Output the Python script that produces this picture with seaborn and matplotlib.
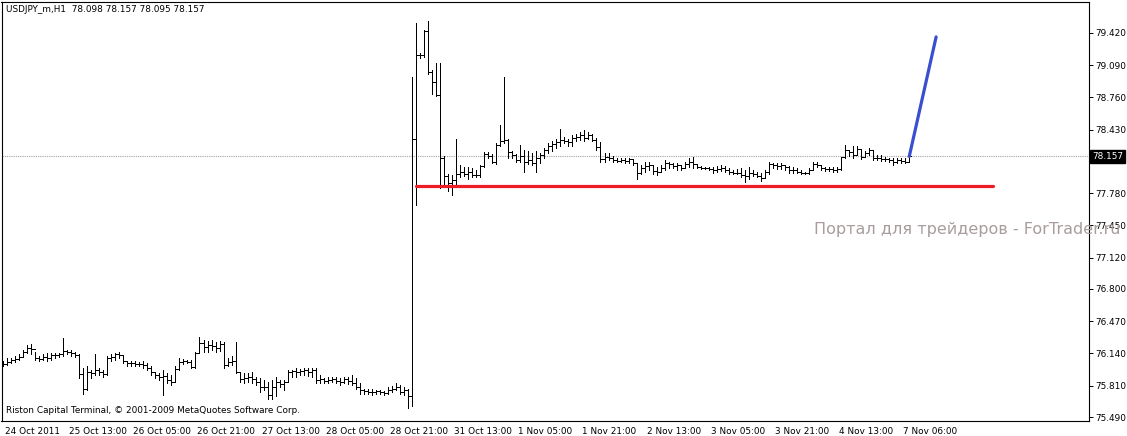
"""
USDJPY H1 - graphique en barres OHLC (style terminal MT4)
Sortie : out.png
"""

import numpy as np
import pandas as pd
import matplotlib
matplotlib.use("Agg")
import matplotlib.pyplot as plt
import matplotlib.transforms as mtransforms
import seaborn as sns

# ============================================================================
# DONNÉES
# ============================================================================
symbol_title = "USDJPY_m,H1  78.098 78.157 78.095 78.157"
footer_text = "Riston Capital Terminal, © 2001-2009 MetaQuotes Software Corp."
watermark = "Портал для трейдеров - ForTrader.ru"

first_open = 76.04

highs = [
    76.06, 76.09, 76.09, 76.11, 76.13, 76.18, 76.23, 76.24, 76.16, 76.11,
    76.13, 76.14, 76.14, 76.14, 76.14, 76.30, 76.18, 76.18, 76.16, 76.13,
    75.99, 76.01, 75.97, 76.13, 75.99, 75.97, 76.11, 76.13, 76.14, 76.16,
    76.12, 76.06, 76.06, 76.06, 76.05, 76.06, 76.04, 76.01, 75.95, 75.94,
    75.97, 75.94, 75.92, 76.01, 76.09, 76.08, 76.07, 76.07, 76.16, 76.31,
    76.28, 76.27, 76.28, 76.26, 76.27, 76.26, 76.09, 76.11, 76.26, 75.95,
    75.94, 75.94, 75.95, 75.90, 75.89, 75.87, 75.85, 75.87, 75.90, 75.87,
    75.87, 75.97, 75.97, 75.99, 75.98, 75.99, 75.99, 75.99, 75.99, 75.92,
    75.89, 75.90, 75.90, 75.90, 75.89, 75.90, 75.90, 75.92, 75.89, 75.84,
    75.78, 75.78, 75.78, 75.77, 75.77, 75.76, 75.80, 75.81, 75.84, 75.82,
    75.80, 75.78, 78.97, 79.52, 79.22, 79.45, 79.54, 79.04, 79.11, 79.11,
    78.16, 77.98, 77.97, 78.34, 78.07, 78.05, 78.05, 78.04, 78.02, 78.07,
    78.20, 78.20, 78.18, 78.29, 78.48, 78.97, 78.34, 78.21, 78.18, 78.27,
    78.22, 78.21, 78.19, 78.21, 78.19, 78.24, 78.29, 78.31, 78.34, 78.44,
    78.36, 78.34, 78.38, 78.39, 78.41, 78.43, 78.41, 78.39, 78.35, 78.30,
    78.19, 78.19, 78.16, 78.14, 78.14, 78.14, 78.14, 78.13, 78.09, 78.07,
    78.10, 78.10, 78.07, 78.05, 78.07, 78.12, 78.10, 78.09, 78.09, 78.07,
    78.10, 78.14, 78.155, 78.08, 78.06, 78.05, 78.05, 78.05, 78.06, 78.07,
    78.06, 78.04, 78.02, 78.03, 78.04, 78.02, 78.05, 78.02, 78.00, 77.99,
    78.02, 78.10, 78.09, 78.09, 78.09, 78.07, 78.06, 78.05, 78.04, 78.02,
    78.00, 78.04, 78.10, 78.10, 78.07, 78.05, 78.05, 78.05, 78.05, 78.155,
    78.27, 78.22, 78.26, 78.26, 78.23, 78.21, 78.24, 78.22, 78.17, 78.17,
    78.155, 78.14, 78.14, 78.14, 78.14, 78.14, 78.157,
]

lows = [
    76.01, 76.02, 76.04, 76.05, 76.07, 76.11, 76.14, 76.13, 76.07, 76.06,
    76.07, 76.06, 76.07, 76.09, 76.10, 76.11, 76.13, 76.11, 76.10, 75.89,
    75.73, 75.77, 75.89, 75.92, 75.92, 75.90, 75.92, 76.06, 76.07, 76.09,
    76.04, 76.01, 76.01, 76.01, 76.01, 75.99, 75.97, 75.92, 75.89, 75.87,
    75.72, 75.84, 75.82, 75.85, 75.97, 76.03, 76.04, 75.99, 75.99, 76.14,
    76.16, 76.16, 76.18, 76.16, 76.17, 75.99, 76.01, 76.02, 75.94, 75.85,
    75.84, 75.85, 75.84, 75.82, 75.75, 75.77, 75.67, 75.67, 75.70, 75.80,
    75.77, 75.85, 75.90, 75.90, 75.92, 75.92, 75.91, 75.90, 75.84, 75.84,
    75.84, 75.84, 75.85, 75.84, 75.82, 75.84, 75.83, 75.82, 75.78, 75.73,
    75.73, 75.73, 75.72, 75.73, 75.73, 75.72, 75.73, 75.75, 75.77, 75.73,
    75.72, 75.58, 75.60, 77.66, 79.16, 79.17, 79.00, 78.80, 78.78, 77.83,
    77.86, 77.80, 77.76, 77.86, 77.95, 77.96, 77.93, 77.95, 77.95, 77.95,
    78.05, 78.14, 78.09, 78.08, 78.26, 78.29, 78.14, 78.14, 78.10, 78.10,
    78.00, 78.08, 78.07, 78.00, 78.09, 78.14, 78.19, 78.21, 78.24, 78.26,
    78.29, 78.26, 78.26, 78.31, 78.33, 78.31, 78.34, 78.31, 78.22, 78.10,
    78.10, 78.12, 78.10, 78.10, 78.10, 78.09, 78.09, 78.07, 77.93, 77.98,
    78.00, 78.02, 77.98, 77.97, 78.00, 78.02, 78.04, 78.04, 78.02, 78.02,
    78.04, 78.05, 78.04, 78.04, 78.03, 78.03, 78.02, 77.99, 78.00, 78.01,
    78.00, 77.98, 77.98, 77.98, 77.95, 77.89, 77.93, 77.96, 77.95, 77.91,
    77.94, 77.98, 78.04, 78.03, 78.03, 78.02, 77.99, 77.99, 77.99, 77.98,
    77.98, 77.98, 78.02, 78.05, 78.02, 78.01, 78.01, 78.00, 78.00, 78.02,
    78.14, 78.16, 78.14, 78.17, 78.13, 78.15, 78.17, 78.12, 78.12, 78.11,
    78.11, 78.10, 78.07, 78.09, 78.09, 78.09, 78.095,
]

closes = [
    76.03, 76.05, 76.07, 76.08, 76.10, 76.16, 76.20, 76.19, 76.09, 76.08,
    76.10, 76.09, 76.12, 76.12, 76.13, 76.17, 76.16, 76.15, 76.12, 75.93,
    75.78, 75.95, 75.94, 75.97, 75.95, 75.93, 76.09, 76.10, 76.13, 76.12,
    76.06, 76.04, 76.04, 76.03, 76.03, 76.02, 75.99, 75.95, 75.92, 75.90,
    75.91, 75.87, 75.85, 75.98, 76.05, 76.06, 76.05, 76.00, 76.15, 76.25,
    76.21, 76.23, 76.22, 76.20, 76.24, 76.02, 76.05, 76.06, 75.95, 75.88,
    75.89, 75.90, 75.88, 75.85, 75.80, 75.80, 75.72, 75.80, 75.85, 75.83,
    75.85, 75.95, 75.96, 75.95, 75.96, 75.97, 75.95, 75.97, 75.87, 75.88,
    75.86, 75.87, 75.88, 75.86, 75.85, 75.88, 75.86, 75.84, 75.80, 75.77,
    75.76, 75.75, 75.75, 75.76, 75.75, 75.74, 75.77, 75.78, 75.80, 75.75,
    75.77, 75.70, 78.34, 79.19, 79.19, 79.44, 79.02, 78.92, 78.79, 78.14,
    77.96, 77.88, 77.92, 77.98, 78.00, 77.98, 78.00, 77.97, 77.97, 78.06,
    78.18, 78.16, 78.10, 78.27, 78.31, 78.32, 78.20, 78.17, 78.12, 78.16,
    78.10, 78.12, 78.09, 78.14, 78.17, 78.22, 78.26, 78.28, 78.30, 78.33,
    78.31, 78.30, 78.35, 78.36, 78.38, 78.35, 78.38, 78.33, 78.25, 78.13,
    78.15, 78.14, 78.12, 78.11, 78.12, 78.11, 78.13, 78.09, 77.99, 78.04,
    78.06, 78.07, 78.01, 78.00, 78.04, 78.09, 78.08, 78.06, 78.07, 78.04,
    78.08, 78.10, 78.08, 78.05, 78.04, 78.04, 78.03, 78.02, 78.03, 78.04,
    78.02, 78.00, 77.99, 77.99, 77.97, 77.96, 77.99, 77.98, 77.96, 77.94,
    78.00, 78.08, 78.07, 78.06, 78.07, 78.05, 78.02, 78.02, 78.00, 77.99,
    77.99, 78.02, 78.08, 78.07, 78.04, 78.03, 78.03, 78.02, 78.03, 78.15,
    78.22, 78.20, 78.17, 78.23, 78.15, 78.19, 78.22, 78.14, 78.14, 78.13,
    78.13, 78.12, 78.10, 78.12, 78.11, 78.098, 78.157,
]

# ouverture d'une barre H1 = clôture de la barre précédente
opens = [first_open] + closes[:-1]

# axe des temps : une étiquette toutes les 16 barres
time_labels = [
    "24 Oct 2011", "25 Oct 13:00", "26 Oct 05:00", "26 Oct 21:00",
    "27 Oct 13:00", "28 Oct 05:00", "28 Oct 21:00", "31 Oct 13:00",
    "1 Nov 05:00", "1 Nov 21:00", "2 Nov 13:00", "3 Nov 05:00",
    "3 Nov 21:00", "4 Nov 13:00", "7 Nov 06:00",
]
label_step = 16

price_ticks = [75.49, 75.81, 76.14, 76.47, 76.80, 77.12, 77.45,
               77.78, 78.11, 78.43, 78.76, 79.09, 79.42]

last_price = 78.157

# ligne de support (rouge) et projection (bleue)
support_bars = [103, 247]
support_level = [77.855, 77.855]
forecast_bars = [226, 232.7]
forecast_level = [78.157, 79.38]

# ============================================================================
# FIGURE
# ============================================================================
sns.set_style("white")
plt.rcParams["font.family"] = ["DejaVu Sans"]
FS = 6.4

W, H = 1127, 436
fig = plt.figure(figsize=(W / 100, H / 100), dpi=100)
ax = fig.add_axes([1.5 / W, 1 - 421 / H, (1089 - 1.5) / W, (421 - 2.5) / H])

idx = np.arange(len(closes))
df = pd.DataFrame({"bar": idx, "open": opens, "high": highs,
                   "low": lows, "close": closes})

# barres OHLC (1 px, sans anticrénelage comme le terminal)
lw_px = 0.6
ax.vlines(df["bar"], df["low"], df["high"], color="black", lw=lw_px,
          antialiased=False)
ax.hlines(df["open"], df["bar"] - 0.4, df["bar"], color="black", lw=lw_px,
          antialiased=False)
ax.hlines(df["close"], df["bar"], df["bar"] + 0.4, color="black", lw=lw_px,
          antialiased=False)

# ligne du dernier prix (pointillée)
ax.axhline(last_price, color="#a8a0a8", lw=0.8, ls=(0, (1, 1)), zorder=0)

# support rouge et projection bleue
sns.lineplot(x=support_bars, y=support_level, ax=ax, color="#ee1c24",
             lw=2.3, estimator=None)
sns.lineplot(x=forecast_bars, y=forecast_level, ax=ax, color="#3a4fd0",
             lw=2.3, estimator=None)

# limites : 4.01 px par barre, première barre à x=3
px = 4.01
ax.set_xlim((1.5 - 3) / px, (1089 - 3) / px)
ax.set_ylim(75.49 - 4 * 0.010234, 79.42 + 30.5 * 0.010234)

# axe des prix à droite
ax.yaxis.tick_right()
ax.set_yticks(price_ticks)
ax.set_yticklabels([f"{v:.3f}" for v in price_ticks])
ax.tick_params(axis="y", direction="out", length=3, width=0.7,
               pad=1.5, labelsize=FS, colors="black")

# axe des temps
ax.set_xticks([i * label_step for i in range(len(time_labels))])
ax.set_xticklabels(time_labels)
ax.tick_params(axis="x", direction="out", length=3.5, width=0.7,
               pad=1, labelsize=FS, colors="black")
offset = mtransforms.ScaledTranslation(2 / 100, 0, fig.dpi_scale_trans)
for lab in ax.get_xticklabels():
    lab.set_horizontalalignment("left")
    lab.set_transform(lab.get_transform() + offset)

for sp in ax.spines.values():
    sp.set_color("black")
    sp.set_linewidth(0.8)
ax.grid(False)
ax.set_xlabel("")
ax.set_ylabel("")

# case noire du dernier prix
trans = mtransforms.blended_transform_factory(ax.transAxes, ax.transData)
box_trans = trans + mtransforms.ScaledTranslation(3 / 100, 0,
                                                   fig.dpi_scale_trans)
ax.text(1.0, last_price, f"{last_price:.3f}", transform=box_trans,
        ha="left", va="center", color="white", fontsize=FS,
        bbox=dict(boxstyle="square,pad=0.2", fc="black", ec="black"),
        zorder=10, clip_on=False)

# textes
fig.text(6 / W, 1 - 10 / H, symbol_title, ha="left", va="center",
         fontsize=FS, color="black")
fig.text(6 / W, 1 - 410 / H, footer_text, ha="left", va="center",
         fontsize=FS, color="black")
fig.text(1120 / W, 1 - 229 / H, watermark, ha="right", va="center",
         fontsize=11.5, color="#a89c9c")

fig.savefig("out.png", dpi=100)
print("✓ out.png sauvegardé")
